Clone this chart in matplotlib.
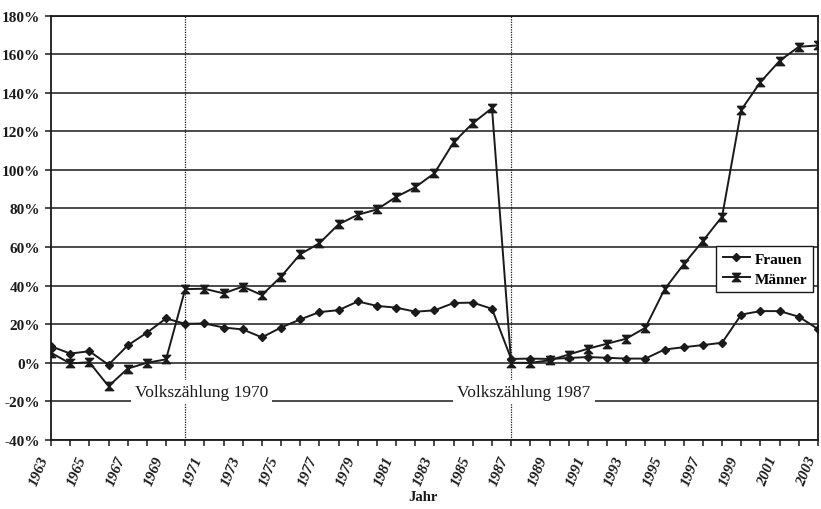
import matplotlib
matplotlib.use("Agg")
import matplotlib.pyplot as plt
from matplotlib.path import Path

years = list(range(1963, 2004))

frauen = [8.6, 4.8, 6.0, -1.0, 9.0, 15.6, 23.0, 20.2, 20.4, 18.3,
          17.3, 13.2, 18.3, 22.5, 26.3, 27.3, 31.8, 29.5, 28.6, 26.5,
          27.2, 31.0, 31.2, 28.0, 2.0, 2.2, 2.0, 2.5, 3.0, 2.6,
          2.2, 2.2, 6.9, 8.1, 9.2, 10.4, 25.0, 26.8, 26.8, 23.9, 17.5]

maenner = [5.2, -0.3, 0.3, -12.1, -3.0, 0.0, 1.8, 38.2, 38.4, 36.0,
           39.5, 35.1, 44.7, 56.3, 62.0, 71.8, 76.7, 79.5, 86.0, 91.0,
           98.3, 114.3, 124.2, 132.0, 0.0, 0.0, 1.3, 4.3, 7.3, 9.9,
           12.5, 18.2, 38.1, 51.1, 63.2, 75.8, 131.1, 145.5, 156.5, 163.8, 164.5]

census_years = [1970, 1987]
census_labels = ["Volkszählung 1970", "Volkszählung 1987"]
census_label_x = [1970.85, 1987.67]

y_ticks = [-40, -20, 0, 20, 40, 60, 80, 100, 120, 140, 160, 180]

ink = "#1a1a1a"
plt.rcParams["font.family"] = ["Liberation Serif", "DejaVu Serif"]

# hourglass marker like the old Excel one
hourglass = Path([(-1, 1), (1, 1), (-1, -1), (1, -1), (-1, 1)])

fig = plt.figure(figsize=(8.21, 5.10), dpi=100)
ax = fig.add_axes([0.0621, 0.1353, 0.9342, 0.8323])

for v in y_ticks:
    ax.axhline(v, color=ink, lw=1.1, zorder=1)

for yr in census_years:
    ax.axvline(yr, color=ink, lw=0.9, ls=(0, (1, 1)), zorder=1)

ax.plot(years, frauen, color=ink, lw=1.4, marker="D", ms=4.5,
        mfc=ink, mec=ink, label="Frauen", zorder=3)
ax.plot(years, maenner, color=ink, lw=1.4, marker=hourglass, ms=6,
        mfc=ink, mec=ink, label="Männer", zorder=3)

for xt, txt in zip(census_label_x, census_labels):
    ax.text(xt, -15, txt, ha="center", va="center", fontsize=12.5,
            color=ink, zorder=5,
            bbox=dict(facecolor="white", edgecolor="none", pad=3))

ax.set_xlim(1963, 2003)
ax.set_ylim(-40, 180)

ax.set_yticks(y_ticks)
ax.set_yticklabels([f"{v}%" for v in y_ticks], fontsize=11, fontweight="bold")

ax.set_xticks(years)
ax.set_xticklabels([str(y) if (y - 1963) % 2 == 0 else "" for y in years],
                   rotation=68, ha="right", va="top", rotation_mode="default",
                   fontsize=11, fontweight="bold", fontstyle="italic")
ax.tick_params(axis="both", direction="out", length=4, width=1.1, color=ink,
               labelcolor=ink)
ax.tick_params(axis="x", pad=6)
ax.tick_params(axis="y", pad=4)

for s in ax.spines.values():
    s.set_color(ink)
    s.set_linewidth(1.3)

fig.text(0.515, 1 - 498 / 510, "Jahr", ha="center", va="center",
         fontsize=10.5, fontweight="bold", color=ink)

leg = ax.legend(loc="upper right", bbox_to_anchor=(0.994, 0.457),
                borderaxespad=0, fancybox=False, framealpha=1, edgecolor=ink,
                prop={"size": 11, "weight": "bold"}, handlelength=1.8,
                handletextpad=0.3, borderpad=0.4, labelspacing=0.4)
leg.get_frame().set_linewidth(1.0)

fig.savefig("out.png", dpi=100)
